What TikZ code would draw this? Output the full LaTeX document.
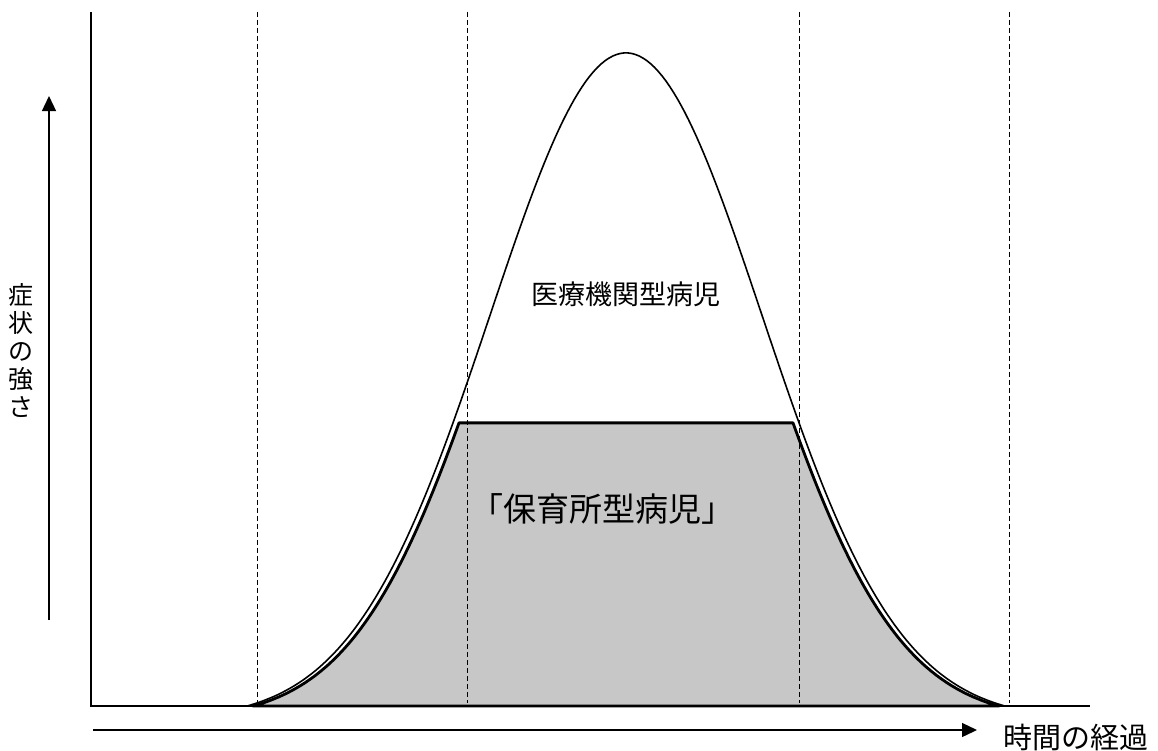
\documentclass[tikz,border=0pt]{standalone}
\usepackage{fontspec}
\newfontfamily\cjk{Noto Sans CJK JP}
\usetikzlibrary{arrows.meta}
\begin{document}
\begin{tikzpicture}[x=1pt,y=-1pt,
  declare function={bell(\x,\c)=706-653*(exp(-((\x-\c)/136)^2/2)-0.0206)/0.9794;},
  guide/.style={line width=0.8pt, dash pattern=on 5pt off 3pt},
  axisline/.style={line width=1.3pt},
  bellline/.style={line width=1.6pt},
  outline/.style={line width=2.8pt, line join=round},
  stipple/.style={fill=black!22},
  arrowline/.style={line width=1.3pt, -{Triangle[length=15pt,width=14pt]}},
  lbl/.style={inner sep=0pt, text=black},
]
\useasboundingbox (0,0) rectangle (1158,750);

% coordinates
\coordinate (yaxTop) at (91,12);
\coordinate (origin) at (91,706);
\coordinate (baseEnd) at (1090,706);
\coordinate (yarrS) at (49,620);
\coordinate (yarrE) at (49,96);
\coordinate (xarrS) at (93,730);
\coordinate (xarrE) at (977,730);

% shaded region (day-care type)
\fill[stipple] plot[domain=253:459,samples=80] (\x,{bell(\x,632)})
  -- (793,{bell(793,620)})
  -- plot[domain=793:999,samples=80] (\x,{bell(\x,620)}) -- cycle;

% dashed guides
\foreach \gx/\nm in {257/g1,467/g2,799/g3,1009/g4}{
  \coordinate (\nm t) at (\gx,12);
  \coordinate (\nm b) at (\gx,703);
  \draw[guide] (\nm t) -- (\nm b);
}

% axes
\draw[axisline] (yaxTop) -- (origin) -- (baseEnd);

% thick outline
\draw[outline] plot[domain=253:459,samples=80] (\x,{bell(\x,632)})
  -- (793,{bell(793,620)})
  -- plot[domain=793:999,samples=80] (\x,{bell(\x,620)}) -- cycle;

% bell curve (hospital type)
\draw[bellline] plot[domain=247:1005,samples=200] (\x,{bell(\x,626)});

% arrows
\draw[arrowline] (yarrS) -- (yarrE);
\draw[arrowline] (xarrS) -- (xarrE);

% labels
\node[lbl, font=\cjk\fontsize{25}{28}\selectfont, align=center] (ylab) at (21,351) {症\\状\\の\\強\\さ};
\node[lbl, font=\cjk\fontsize{29}{32}\selectfont, anchor=west] (xlab) at (1003,737) {時間の経過};
\node[lbl, font=\cjk\fontsize{27}{30}\selectfont] (hosp) at (626,294) {医療機関型病児};
\node[lbl, font=\cjk\fontsize{33}{36}\selectfont] (nurs) at (602,509) {「保育所型病児」};
\end{tikzpicture}
\end{document}
